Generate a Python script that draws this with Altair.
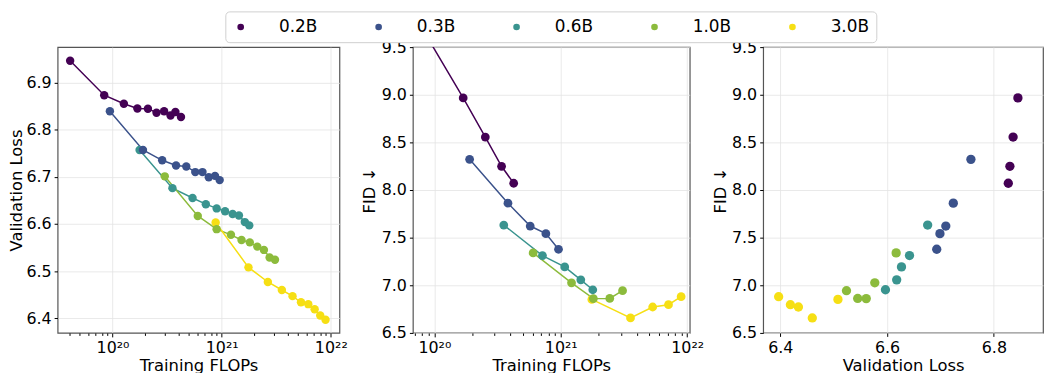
import altair as alt
import pandas as pd

sizes = ["0.2B", "0.3B", "0.6B", "1.0B", "3.0B"]
colors = ["#440154", "#3b528b", "#3a948f", "#8cbb3c", "#f6df14"]

# training FLOPs at the 10 checkpoints of each model
flops_02 = [4.09e19, 8.39e19, 1.27e20, 1.69e20, 2.11e20, 2.53e20, 2.97e20, 3.40e20, 3.77e20, 4.24e20]
flops_03 = [9.46e19, 1.90e20, 2.85e20, 3.82e20, 4.74e20, 5.73e20, 6.67e20, 7.62e20, 8.69e20, 9.59e20]
flops_06 = [1.77e20, 3.54e20, 5.41e20, 7.16e20, 9.00e20, 1.074e21, 1.26e21, 1.44e21, 1.63e21, 1.79e21]
flops_10 = [3.01e20, 6.04e20, 8.99e20, 1.216e21, 1.52e21, 1.81e21, 2.12e21, 2.44e21, 2.75e21, 3.08e21]
flops_30 = [8.81e20, 1.76e21, 2.65e21, 3.56e21, 4.46e21, 5.33e21, 6.22e21, 7.11e21, 8.00e21, 8.95e21]

# validation loss at the same checkpoints
loss_02 = [6.946, 6.873, 6.855, 6.845, 6.8445, 6.836, 6.839, 6.830, 6.8375, 6.827]
loss_03 = [6.839, 6.757, 6.735, 6.724, 6.722, 6.710, 6.710, 6.699, 6.702, 6.693]
loss_06 = [6.757, 6.676, 6.655, 6.642, 6.633, 6.627, 6.621, 6.618, 6.604, 6.597]
loss_10 = [6.701, 6.617, 6.589, 6.577, 6.566, 6.561, 6.552, 6.545, 6.529, 6.524]
loss_30 = [6.603, 6.508, 6.477, 6.460, 6.447, 6.434, 6.430, 6.419, 6.406, 6.397]

# FID measured at every second checkpoint (2, 4, 6, 8, 10)
fid_02 = [9.65, 8.967, 8.556, 8.249, 8.071]
fid_03 = [8.322, 7.862, 7.622, 7.542, 7.378]
fid_06 = [7.632, 7.312, 7.193, 7.057, 6.953]
fid_10 = [7.340, 7.026, 6.860, 6.862, 6.943]
fid_30 = [6.852, 6.657, 6.772, 6.796, 6.880]

series = [
    ("0.2B", flops_02, loss_02, fid_02),
    ("0.3B", flops_03, loss_03, fid_03),
    ("0.6B", flops_06, loss_06, fid_06),
    ("1.0B", flops_10, loss_10, fid_10),
    ("3.0B", flops_30, loss_30, fid_30),
]
rows = []
for name, fl, lo, fi in series:
    for i in range(len(fl)):
        fid = fi[i // 2] if i % 2 == 1 else None
        rows.append({"size": name, "order": i, "flops": fl[i], "loss": lo[i], "fid": fid})
df = pd.DataFrame(rows)
df_fid = df[df["fid"].notna()].copy()

FONT = "DejaVu Sans"
H = 288


def log_ticks(lo, hi):
    out = []
    for e in range(18, 24):
        for m in range(1, 10):
            v = m * 10.0 ** e
            if lo <= v <= hi:
                out.append(v)
    return out


major_test = "abs(log(datum.value)/LN10 - round(log(datum.value)/LN10)) < 0.01"
label_expr = (
    "abs(log(datum.value)/LN10 - round(log(datum.value)/LN10)) < 0.01 ? "
    "(round(log(datum.value)/LN10) == 19 ? '10¹⁹' : "
    "round(log(datum.value)/LN10) == 20 ? '10²⁰' : "
    "round(log(datum.value)/LN10) == 21 ? '10²¹' : '10²²') : ''"
)


def flops_axis(lo, hi):
    return alt.Axis(
        values=log_ticks(lo, hi),
        labelExpr=label_expr,
        labelOverlap=False,
        labelFlush=False,
        tickSize={"condition": {"test": major_test, "value": 4}, "value": 2.5},
        gridOpacity={"condition": {"test": major_test, "value": 1}, "value": 0},
        title="Training FLOPs",
        titlePadding=2,
    )


def y_axis(values, title, tx):
    return alt.Axis(values=values, format=".1f", title=title,
                    titleX=tx, titleY=H / 2, titleBaseline="alphabetic",
                    titleAngle=270, titleAlign="center")


color_scale = alt.Scale(domain=sizes, range=colors)
fid_ticks = [6.5, 7.0, 7.5, 8.0, 8.5, 9.0, 9.5]

# ---------- left: validation loss vs FLOPs ----------
lx = alt.X("flops:Q", scale=alt.Scale(type="log", domain=[3.14e19, 1.2e22], nice=False),
           axis=flops_axis(3.14e19, 1.2e22))
ly = alt.Y("loss:Q", scale=alt.Scale(domain=[6.369, 6.975], nice=False, zero=False),
           axis=y_axis([6.4, 6.5, 6.6, 6.7, 6.8, 6.9], "Validation Loss", -36))
lbase = alt.Chart(df).encode(x=lx, y=ly, color=alt.Color("size:N", scale=color_scale, legend=None),
                             order="order:Q")
left = alt.layer(
    lbase.mark_line(strokeWidth=1.5, clip=True),
    lbase.mark_circle(size=72, opacity=1, clip=True),
).properties(width=284, height=H)

# ---------- middle: FID vs FLOPs ----------
mx = alt.X("flops:Q", scale=alt.Scale(type="log", domain=[6.76e19, 1.047e22], nice=False),
           axis=flops_axis(6.76e19, 1.047e22))
my = alt.Y("fid:Q", scale=alt.Scale(domain=[6.5, 9.5], nice=False, zero=False),
           axis=y_axis(fid_ticks, "FID ↓", -39))
mbase = alt.Chart(df_fid).encode(x=mx, y=my, color=alt.Color("size:N", scale=color_scale, legend=None),
                                 order="order:Q")
middle = alt.layer(
    mbase.mark_line(strokeWidth=1.5, clip=True),
    mbase.mark_circle(size=78, opacity=1, clip=True),
).properties(width=279, height=H)

# ---------- right: FID vs validation loss ----------
rx = alt.X("loss:Q", scale=alt.Scale(domain=[6.368, 6.892], nice=False, zero=False),
           axis=alt.Axis(values=[6.4, 6.6, 6.8], format=".1f", title="Validation Loss", titlePadding=2))
ry = alt.Y("fid:Q", scale=alt.Scale(domain=[6.5, 9.5], nice=False, zero=False),
           axis=y_axis(fid_ticks, "FID ↓", -38))
legend = alt.Legend(
    orient="none", direction="horizontal", columns=5, title=None,
    legendX=-542, legendY=-36,
    symbolType="circle", symbolSize=45, symbolStrokeWidth=0, symbolOpacity=1,
    labelFont=FONT, labelFontSize=17, labelOffset=30, columnPadding=53,
    padding=7, strokeColor="#d0d0d0", cornerRadius=4, fillColor="white",
)
right = alt.Chart(df_fid).mark_circle(size=88, opacity=1, clip=True).encode(
    x=rx, y=ry, color=alt.Color("size:N", scale=color_scale, legend=legend)
).properties(width=282, height=H)

chart = (
    alt.hconcat(left, middle, right, spacing=74, bounds="flush")
    .resolve_legend(color="independent")
    .properties(padding=0)
    .configure(font=FONT)
    .configure_view(stroke="#555555", strokeWidth=1.2)
    .configure_axis(
        labelFont=FONT, labelFontSize=16, labelColor="black",
        titleFont=FONT, titleFontSize=16.5, titleFontWeight="normal", titleColor="black",
        tickColor="black", tickSize=3.5, domain=False,
        gridColor="#e3e3e3", gridWidth=0.8, labelPadding=3, titlePadding=4,
    )
)
chart.save("out.html", embed_options={"renderer": "svg", "actions": False})
